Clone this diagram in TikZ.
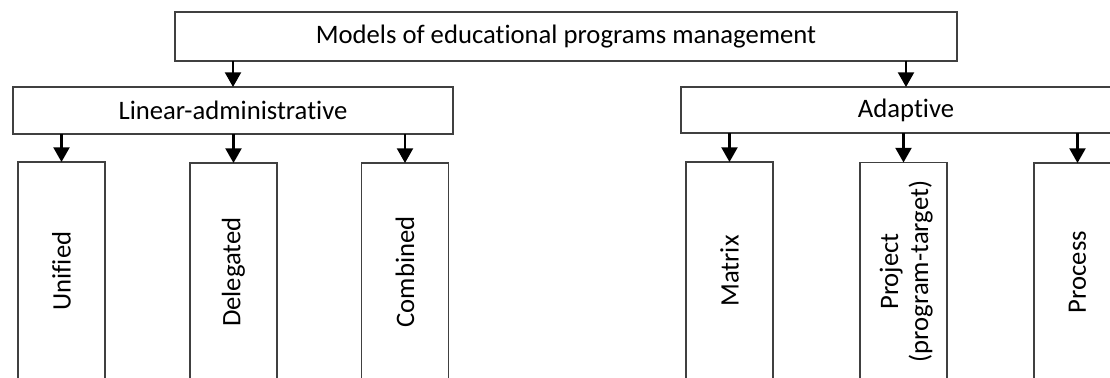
\documentclass[tikz,border=0pt]{standalone}
\usepackage{fontspec}
\setmainfont{Carlito}[Ligatures=NoCommon]
\usetikzlibrary{arrows.meta}
\begin{document}
\begin{tikzpicture}[x=0.75pt,y=-0.75pt,
  box/.style={draw=black!75,line width=1pt,fill=white,inner sep=0pt,outer sep=0pt,
    font=\fontsize{20}{24}\selectfont},
  leaf/.style={box,minimum width={87*0.75pt},minimum height={218*0.75pt}},
  vtext/.style={rotate=90,align=center,inner sep=0pt,font=\fontsize{20}{22.5}\selectfont},
  conn/.style={line width=1.6pt,-{Triangle[width=12pt,length=11pt]}}]
\useasboundingbox (0,0) rectangle (1110,378);
\clip (0,0) rectangle (1110,378);
\node[box,minimum width={782*0.75pt},minimum height={49*0.75pt}] (top) at (566,36.5) {Models of educational programs management};
\node[box,minimum width={440*0.75pt},minimum height={47*0.75pt}] (lin) at (233,110.5) {Linear-administrative};
\node[box,minimum width={450*0.75pt},minimum height={46*0.75pt}] (ada) at (906,110) {Adaptive};
\node[leaf] (u) at (61.5,271) {};
\node[leaf] (d) at (233.5,272) {};
\node[leaf] (c) at (405,272) {};
\node[leaf] (m) at (729.5,271) {};
\node[leaf] (p) at (903.5,271.5) {};
\node[leaf] (r) at (1077.5,272) {};
\node[vtext] (ut) at (u) {Unified};
\node[vtext] (dt) at (d) {Delegated};
\node[vtext] (ct) at (c) {Combined};
\node[vtext] (mt) at (m) {Matrix};
\node[vtext] (pt) at ([xshift=2]p.center) {Project\\(program-target)};
\node[vtext] (rt) at (r) {Process};
\draw[conn] (lin.north |- top.south) -- (lin.north);
\draw[conn] (ada.north |- top.south) -- (ada.north);
\foreach \n in {u,d,c}{\draw[conn] (\n.north |- lin.south) -- (\n.north);}
\foreach \n in {m,p,r}{\draw[conn] (\n.north |- ada.south) -- (\n.north);}
\end{tikzpicture}
\end{document}
